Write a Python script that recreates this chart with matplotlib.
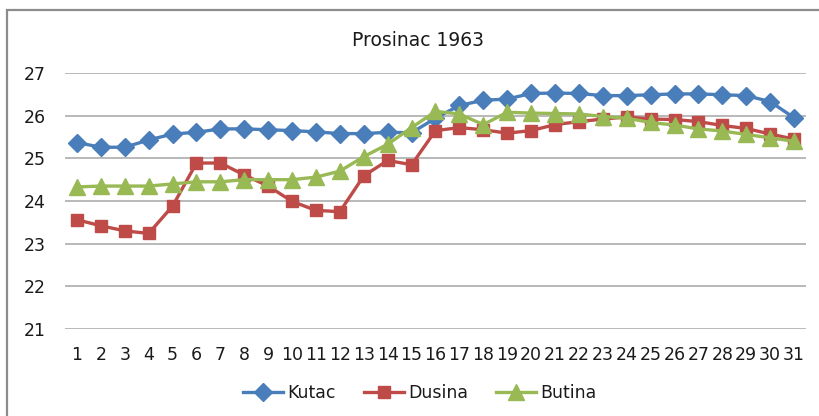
import matplotlib
matplotlib.use("Agg")
import matplotlib.pyplot as plt
from matplotlib.patches import Rectangle

days = list(range(1, 32))
day_labels = [str(d) for d in days]
kutac = [25.37, 25.26, 25.26, 25.43, 25.57, 25.61, 25.69, 25.69, 25.67, 25.65,
         25.62, 25.58, 25.58, 25.61, 25.6, 25.94, 26.24, 26.36, 26.39, 26.52,
         26.53, 26.52, 26.47, 26.47, 26.49, 26.51, 26.51, 26.49, 26.47, 26.33, 25.95]
dusina = [23.56, 23.42, 23.3, 23.24, 23.88, 24.89, 24.89, 24.61, 24.35, 23.99,
          23.78, 23.75, 24.59, 24.95, 24.85, 25.65, 25.72, 25.67, 25.59, 25.65,
          25.79, 25.86, 25.92, 25.97, 25.92, 25.91, 25.86, 25.77, 25.7, 25.57, 25.45]
butina = [24.33, 24.35, 24.35, 24.35, 24.4, 24.45, 24.45, 24.5, 24.5, 24.5,
          24.56, 24.7, 25.04, 25.33, 25.72, 26.1, 26.04, 25.79, 26.08, 26.06,
          26.05, 26.04, 25.98, 25.94, 25.84, 25.78, 25.69, 25.64, 25.56, 25.48, 25.4]
yticks = [21, 22, 23, 24, 25, 26, 27]

W, H = 820, 416
fig = plt.figure(figsize=(W / 100, H / 100), dpi=100)
fig.patches.append(Rectangle((7 / W, -0.1), 1.2, 1 - 10 / H + 0.1, transform=fig.transFigure,
                             fill=False, edgecolor="#8c8c8c", linewidth=1.6))

ax = fig.add_axes([65 / W, 1 - 329 / H, 741 / W, 256 / H])
ax.set_xlim(0.5, 31.5)
ax.set_ylim(21, 27)
for s in ax.spines.values():
    s.set_visible(False)
ax.set_yticks(yticks)
ax.set_xticks(days)
ax.set_xticklabels(day_labels)
ax.yaxis.grid(True, color="#a6a6a6", linewidth=1.1)
ax.set_axisbelow(True)
ax.tick_params(axis="both", length=0, labelsize=12.5, colors="#1a1a1a")
ax.tick_params(axis="y", pad=14)
ax.tick_params(axis="x", pad=12)

ax.plot(days, kutac, color="#4A7EBB", lw=2.4, marker="D", ms=9, label="Kutac", zorder=3)
ax.plot(days, dusina, color="#BE4B48", lw=2.4, marker="s", ms=8.5, label="Dusina", zorder=4)
ax.plot(days, butina, color="#98B954", lw=2.4, marker="^", ms=11, label="Butina", zorder=5)

fig.text(418 / W, 1 - 40 / H, "Prosinac 1963", ha="center", va="center", fontsize=13.5, color="#1a1a1a")

leg = fig.legend(loc="center", bbox_to_anchor=(420 / W, 1 - 393 / H), ncol=3, frameon=False,
                 fontsize=12.5, handlelength=2.3, handletextpad=0.25, columnspacing=1.6)
for t in leg.get_texts():
    t.set_color("#1a1a1a")

fig.savefig("out.png", dpi=100)
